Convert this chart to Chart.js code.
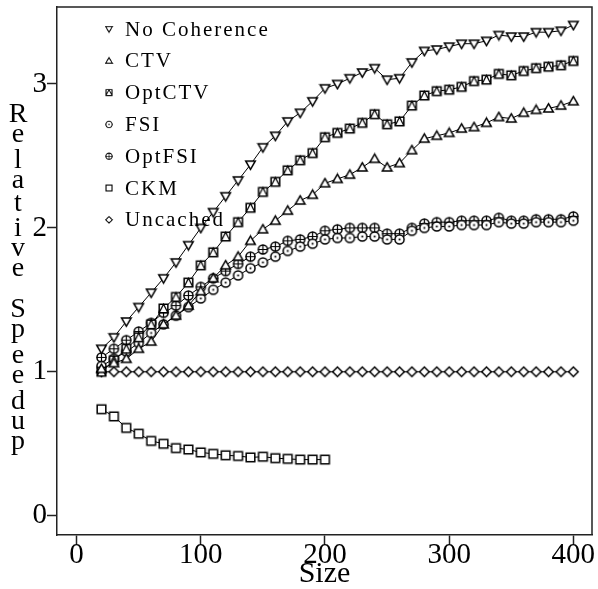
<!DOCTYPE html>
<html>
<head>
<meta charset="utf-8">
<script src="https://cdn.jsdelivr.net/npm/chart.js@4.4.1/dist/chart.umd.min.js"></script>
<style>
  html, body { margin: 0; padding: 0; background: #fff; }
  canvas { display: block; }
</style>
</head>
<body>
<canvas id="chart" width="598" height="589"></canvas>
<script>
// x values (problem size) and tick labels
const SIZES = [20, 30, 40, 50, 60, 70, 80, 90, 100, 110, 120, 130, 140, 150, 160, 170, 180, 190, 200,
  210, 220, 230, 240, 250, 260, 270, 280, 290, 300, 310, 320, 330, 340, 350, 360, 370, 380, 390, 400];
const X_TICKS = [0, 100, 200, 300, 400];
const Y_TICKS = [0, 1, 2, 3];

// series
const NO_COHERENCE = [1.16, 1.24, 1.35, 1.45, 1.55, 1.65, 1.76, 1.88, 2.00, 2.11, 2.22, 2.33, 2.44, 2.56, 2.64, 2.74, 2.80, 2.88, 2.97,
  3.00, 3.04, 3.08, 3.11, 3.03, 3.04, 3.15, 3.23, 3.24, 3.26, 3.28, 3.28, 3.30, 3.34, 3.33, 3.33, 3.36, 3.36, 3.37, 3.41];
const CTV = [1.02, 1.06, 1.09, 1.16, 1.21, 1.33, 1.39, 1.46, 1.56, 1.65, 1.74, 1.80, 1.91, 1.99, 2.05, 2.12, 2.19, 2.23, 2.31,
  2.34, 2.37, 2.42, 2.48, 2.42, 2.45, 2.54, 2.62, 2.64, 2.66, 2.69, 2.70, 2.73, 2.77, 2.76, 2.80, 2.82, 2.83, 2.85, 2.88];
const OPT_CTV = [1.00, 1.08, 1.16, 1.24, 1.33, 1.44, 1.52, 1.62, 1.74, 1.83, 1.94, 2.04, 2.14, 2.25, 2.32, 2.40, 2.47, 2.52, 2.63,
  2.66, 2.69, 2.73, 2.79, 2.72, 2.74, 2.85, 2.92, 2.95, 2.96, 2.98, 3.02, 3.03, 3.07, 3.06, 3.09, 3.11, 3.12, 3.13, 3.16];
const FSI = [1.04, 1.09, 1.14, 1.20, 1.27, 1.33, 1.39, 1.45, 1.51, 1.57, 1.62, 1.67, 1.72, 1.76, 1.80, 1.84, 1.87, 1.89, 1.92,
  1.93, 1.93, 1.94, 1.94, 1.92, 1.92, 1.98, 2.00, 2.01, 2.01, 2.02, 2.02, 2.02, 2.04, 2.03, 2.03, 2.04, 2.04, 2.04, 2.05];
const OPT_FSI = [1.10, 1.16, 1.22, 1.28, 1.34, 1.41, 1.46, 1.53, 1.59, 1.65, 1.70, 1.75, 1.80, 1.85, 1.87, 1.91, 1.92, 1.94, 1.98,
  1.99, 2.00, 2.00, 2.00, 1.96, 1.96, 2.00, 2.03, 2.04, 2.04, 2.05, 2.05, 2.05, 2.07, 2.05, 2.05, 2.06, 2.06, 2.06, 2.08];
const CKM = [0.74, 0.69, 0.61, 0.57, 0.52, 0.50, 0.47, 0.46, 0.44, 0.43, 0.42, 0.415, 0.405, 0.41, 0.40, 0.395, 0.39, 0.39, 0.39];
const UNCACHED = [1, 1, 1, 1, 1, 1, 1, 1, 1, 1, 1, 1, 1, 1, 1, 1, 1, 1, 1,
  1, 1, 1, 1, 1, 1, 1, 1, 1, 1, 1, 1, 1, 1, 1, 1, 1, 1, 1, 1];

const LABELS = ['No Coherence', 'CTV', 'OptCTV', 'FSI', 'OptFSI', 'CKM', 'Uncached'];
const X_TITLE = 'Size';
const Y_TITLE = 'Relative Speedup';

const SERIF = '"Liberation Serif", "Times New Roman", serif';

// little hollow marker glyphs, drawn once on their own canvas
function makeMarker(kind) {
  const size = 13;
  const c = document.createElement('canvas');
  c.width = size; c.height = size;
  const ctx = c.getContext('2d');
  const m = size / 2, r = 4.8;
  ctx.lineWidth = 1.5;
  ctx.strokeStyle = '#000';
  ctx.fillStyle = '#fff';
  ctx.beginPath();
  if (kind === 'down') {
    ctx.moveTo(m - r, m - r * 0.75); ctx.lineTo(m + r, m - r * 0.75); ctx.lineTo(m, m + r); ctx.closePath();
  } else if (kind === 'up') {
    ctx.moveTo(m - r, m + r * 0.75); ctx.lineTo(m + r, m + r * 0.75); ctx.lineTo(m, m - r); ctx.closePath();
  } else if (kind === 'circle' || kind === 'circleDot' || kind === 'circlePlus') {
    ctx.arc(m, m, r * 0.95, 0, Math.PI * 2);
  } else if (kind === 'square' || kind === 'squareTri') {
    ctx.rect(m - r * 0.9, m - r * 0.9, r * 1.8, r * 1.8);
  } else if (kind === 'diamond') {
    ctx.moveTo(m, m - r); ctx.lineTo(m + r, m); ctx.lineTo(m, m + r); ctx.lineTo(m - r, m); ctx.closePath();
  }
  ctx.fill();
  ctx.stroke();
  if (kind === 'squareTri') {
    ctx.beginPath();
    ctx.moveTo(m - r * 0.9, m + r * 0.9); ctx.lineTo(m, m - r * 0.9); ctx.lineTo(m + r * 0.9, m + r * 0.9);
    ctx.lineWidth = 1.2;
    ctx.stroke();
  } else if (kind === 'circlePlus') {
    ctx.beginPath();
    ctx.moveTo(m - r, m); ctx.lineTo(m + r, m);
    ctx.moveTo(m, m - r); ctx.lineTo(m, m + r);
    ctx.lineWidth = 1.2;
    ctx.stroke();
  } else if (kind === 'circleDot') {
    ctx.fillStyle = '#000';
    ctx.fillRect(m - 0.9, m - 0.9, 1.8, 1.8);
  }
  return c;
}

function pts(xs, ys) {
  return ys.map((y, i) => ({ x: xs[i], y: y }));
}

function series(label, values, marker) {
  return {
    label: label,
    data: pts(SIZES, values),
    borderColor: '#000',
    borderWidth: 1,
    pointStyle: makeMarker(marker),
    pointRadius: 5,
    fill: false,
    tension: 0,
  };
}

const datasets = [
  series(LABELS[0], NO_COHERENCE, 'down'),
  series(LABELS[1], CTV, 'up'),
  series(LABELS[2], OPT_CTV, 'squareTri'),
  series(LABELS[3], FSI, 'circleDot'),
  series(LABELS[4], OPT_FSI, 'circlePlus'),
  series(LABELS[5], CKM, 'square'),
  series(LABELS[6], UNCACHED, 'diamond'),
];

// frame, in-plot legend and the stacked y title
const decorations = {
  id: 'decorations',
  afterDraw(chart) {
    const { ctx, chartArea } = chart;
    ctx.save();
    ctx.strokeStyle = '#222';
    ctx.lineWidth = 1.5;
    ctx.beginPath();
    ctx.moveTo(chartArea.left, chartArea.top);
    ctx.lineTo(chartArea.right, chartArea.top);
    ctx.lineTo(chartArea.right, chartArea.bottom);
    ctx.stroke();

    // legend
    ctx.fillStyle = '#000';
    ctx.font = '21px ' + SERIF;
    ctx.letterSpacing = '2px';
    ctx.textBaseline = 'middle';
    ctx.textAlign = 'left';
    chart.data.datasets.forEach((ds, i) => {
      const y = 29 + i * 31.8;
      ctx.drawImage(ds.pointStyle, 109 - 4.5, y - 4.5, 9, 9);
      ctx.fillText(ds.label, 125, y + 1);
    });

    // y title, one letter under the other
    ctx.letterSpacing = '0px';
    ctx.font = '28px ' + SERIF;
    ctx.textAlign = 'center';
    ctx.textBaseline = 'alphabetic';
    let y = 104;
    for (const ch of Y_TITLE) {
      if (ch === ' ') { y += 16; continue; }
      const m = ctx.measureText(ch);
      y += m.actualBoundingBoxAscent;
      ctx.fillText(ch, 18, y);
      y += m.actualBoundingBoxDescent + 7;
    }
    ctx.restore();
  }
};

new Chart(document.getElementById('chart'), {
  type: 'line',
  data: { datasets: datasets },
  options: {
    responsive: false,
    animation: false,
    layout: { padding: { top: 7, right: 5, left: 0, bottom: 0 } },
    plugins: { legend: { display: false }, tooltip: { enabled: false } },
    scales: {
      x: {
        type: 'linear',
        min: -15.8,
        max: 415,
        afterBuildTicks: (s) => { s.ticks = X_TICKS.map(v => ({ value: v })); },
        afterFit: (s) => { s.height = 54; s.paddingLeft = 0; s.paddingRight = 0; },
        grid: { drawOnChartArea: false, drawTicks: true, tickLength: 10, tickColor: '#222', tickWidth: 1.5 },
        border: { display: true, color: '#222', width: 1.5 },
        ticks: { color: '#000', padding: -4, maxRotation: 0, font: { family: SERIF, size: 29, lineHeight: 1 } },
        title: { display: true, text: X_TITLE, color: '#000', padding: 0, font: { family: SERIF, size: 30, lineHeight: 1 } },
      },
      y: {
        type: 'linear',
        min: -0.134,
        max: 3.535,
        afterBuildTicks: (s) => { s.ticks = Y_TICKS.map(v => ({ value: v })); },
        afterFit: (s) => { s.width = 57; s.paddingTop = 0; s.paddingBottom = 0; },
        grid: { drawOnChartArea: false, drawTicks: true, tickLength: 10, tickColor: '#222', tickWidth: 1.5 },
        border: { display: true, color: '#222', width: 1.5 },
        ticks: { color: '#000', padding: 0, font: { family: SERIF, size: 29, lineHeight: 1 } },
      },
    },
  },
  plugins: [decorations],
});
</script>
</body>
</html>
